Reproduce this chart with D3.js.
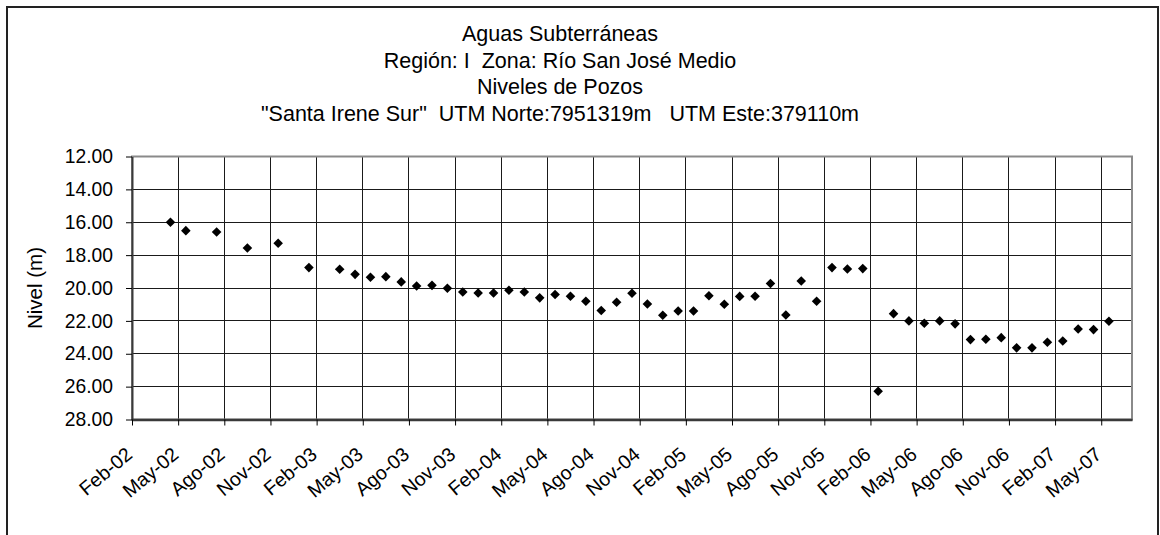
<!DOCTYPE html>
<html>
<head>
<meta charset="utf-8">
<script src="https://cdn.jsdelivr.net/npm/d3@7"></script>
<style>
  html, body { margin: 0; padding: 0; background: #fff; }
  svg { display: block; font-family: "Liberation Sans", Arial, sans-serif; }
  svg text { white-space: pre; }
</style>
</head>
<body>
<svg id="chart" width="1160" height="535"></svg>
<script>
// Chart title, one entry per line
const titleLines = [
  "Aguas Subterráneas",
  "Región: I  Zona: Río San José Medio",
  "Niveles de Pozos",
  "\"Santa Irene Sur\"  UTM Norte:7951319m   UTM Este:379110m"
];

// Measurement months (YYYY-MM) and water level depth (m)
const months = [
  "2002-04", "2002-05", "2002-07", "2002-09", "2002-11",
  "2003-01", "2003-03", "2003-04", "2003-05", "2003-06", "2003-07", "2003-08",
  "2003-09", "2003-10", "2003-11", "2003-12",
  "2004-01", "2004-02", "2004-03", "2004-04", "2004-05", "2004-06",
  "2004-07", "2004-08", "2004-09", "2004-10", "2004-11", "2004-12",
  "2005-01", "2005-02", "2005-03", "2005-04", "2005-05", "2005-06",
  "2005-07", "2005-08", "2005-09", "2005-10", "2005-11", "2005-12",
  "2006-01", "2006-02", "2006-03", "2006-04", "2006-05", "2006-06",
  "2006-07", "2006-08", "2006-09", "2006-10", "2006-11", "2006-12",
  "2007-01", "2007-02", "2007-03", "2007-04", "2007-05"
];
const levels = [
  16.00, 16.51, 16.59, 17.57, 17.28,
  18.76, 18.86, 19.17, 19.35, 19.31, 19.63, 19.88,
  19.84, 20.02, 20.24, 20.30,
  20.30, 20.14, 20.24, 20.60, 20.40, 20.50,
  20.81, 21.37, 20.87, 20.32, 20.97, 21.66,
  21.40, 21.40, 20.47, 20.99, 20.51, 20.50,
  19.73, 21.64, 19.57, 20.81, 18.76, 18.84,
  18.82, 26.28, 21.56, 22.00, 22.14, 22.00,
  22.18, 23.14, 23.12, 23.02, 23.64, 23.64,
  23.30, 23.22, 22.49, 22.53, 22.02
];

// Quarterly tick labels on the time axis (Spanish month abbreviations)
const tickLabels = [
  "Feb-02", "May-02", "Ago-02", "Nov-02",
  "Feb-03", "May-03", "Ago-03", "Nov-03",
  "Feb-04", "May-04", "Ago-04", "Nov-04",
  "Feb-05", "May-05", "Ago-05", "Nov-05",
  "Feb-06", "May-06", "Ago-06", "Nov-06",
  "Feb-07", "May-07"
];
const axisFirstMonth = "2002-02";
const axisEndMonth = "2007-07";   // exclusive
const levelTicks = [12, 14, 16, 18, 20, 22, 24, 26, 28];

// month slot index counted from the first month of the axis
const [y0, m0] = axisFirstMonth.split("-").map(Number);
function monthIndex(s) {
  const [yy, mm] = s.split("-").map(Number);
  return (yy - y0) * 12 + (mm - m0);
}
const nSlots = monthIndex(axisEndMonth);

const svg = d3.select("#chart");
const plot = { left: 132, right: 1132, top: 156.5, bottom: 419.5 };

// outer chart frame
svg.append("rect")
  .attr("x", 7).attr("y", 7)
  .attr("width", 1151).attr("height", 600)
  .attr("fill", "#fff")
  .attr("stroke", "#222").attr("stroke-width", 2);

const x = d3.scaleLinear().domain([0, nSlots]).range([plot.left, plot.right]);
const y = d3.scaleLinear().domain([12, 28]).range([plot.top, plot.bottom]);

// title
svg.append("g")
  .selectAll("text")
  .data(titleLines)
  .join("text")
  .attr("x", 560)
  .attr("y", (d, i) => 41 + i * 26.5)
  .attr("text-anchor", "middle")
  .attr("font-size", "21.5px")
  .attr("fill", "#000")
  .text(d => d);

// grid
const xTickVals = d3.range(0, tickLabels.length * 3, 3);
const grid = svg.append("g").attr("shape-rendering", "crispEdges");
grid.selectAll("line.h")
  .data(levelTicks)
  .join("line")
  .attr("class", "h")
  .attr("x1", plot.left).attr("x2", plot.right)
  .attr("y1", d => y(d)).attr("y2", d => y(d))
  .attr("stroke", "#1a1a1a").attr("stroke-width", 1);
grid.selectAll("line.v")
  .data(xTickVals.filter(d => d > 0))
  .join("line")
  .attr("class", "v")
  .attr("x1", d => x(d)).attr("x2", d => x(d))
  .attr("y1", plot.top).attr("y2", plot.bottom)
  .attr("stroke", "#1a1a1a").attr("stroke-width", 1);

// plot area border
svg.append("rect")
  .attr("x", plot.left).attr("y", plot.top)
  .attr("width", plot.right - plot.left).attr("height", plot.bottom - plot.top)
  .attr("fill", "none")
  .attr("stroke", "#8a8a8a").attr("stroke-width", 2);

// y axis
const yAxis = svg.append("g")
  .attr("transform", `translate(${plot.left},0)`)
  .call(d3.axisLeft(y)
    .tickValues(levelTicks)
    .tickFormat(d3.format(".2f"))
    .tickSize(6)
    .tickSizeOuter(0)
    .tickPadding(13));
yAxis.select(".domain").attr("stroke", "#3a3a3a").attr("stroke-width", 2);
yAxis.selectAll(".tick line").attr("stroke", "#000");
yAxis.selectAll(".tick text")
  .attr("font-size", "19.3px")
  .attr("font-family", "Liberation Sans, Arial, sans-serif")
  .attr("fill", "#000");

// x axis
const xAxis = svg.append("g")
  .attr("transform", `translate(0,${plot.bottom})`)
  .call(d3.axisBottom(x)
    .tickValues(xTickVals)
    .tickFormat((d, i) => tickLabels[i])
    .tickSize(6)
    .tickSizeOuter(0));
xAxis.select(".domain").attr("stroke", "#3a3a3a").attr("stroke-width", 2.5);
xAxis.selectAll(".tick line").attr("stroke", "#000");
xAxis.selectAll(".tick text")
  .attr("font-size", "19.6px")
  .attr("font-family", "Liberation Sans, Arial, sans-serif")
  .attr("fill", "#000")
  .attr("text-anchor", "end")
  .attr("x", 0).attr("y", 0).attr("dy", 0)
  .attr("transform", "translate(1.2,37) rotate(-40)");

// axis title
svg.append("text")
  .attr("transform", `translate(42,${(plot.top + plot.bottom) / 2}) rotate(-90)`)
  .attr("text-anchor", "middle")
  .attr("font-size", "20.5px")
  .attr("fill", "#000")
  .text("Nivel (m)");

// data markers: diamonds
svg.append("g")
  .selectAll("path")
  .data(months)
  .join("path")
  .attr("transform", (d, i) =>
    `translate(${x(monthIndex(d) + 0.5)},${y(levels[i])}) rotate(45)`)
  .attr("d", d3.symbol(d3.symbolSquare, 46))
  .attr("fill", "#000");
</script>
</body>
</html>
